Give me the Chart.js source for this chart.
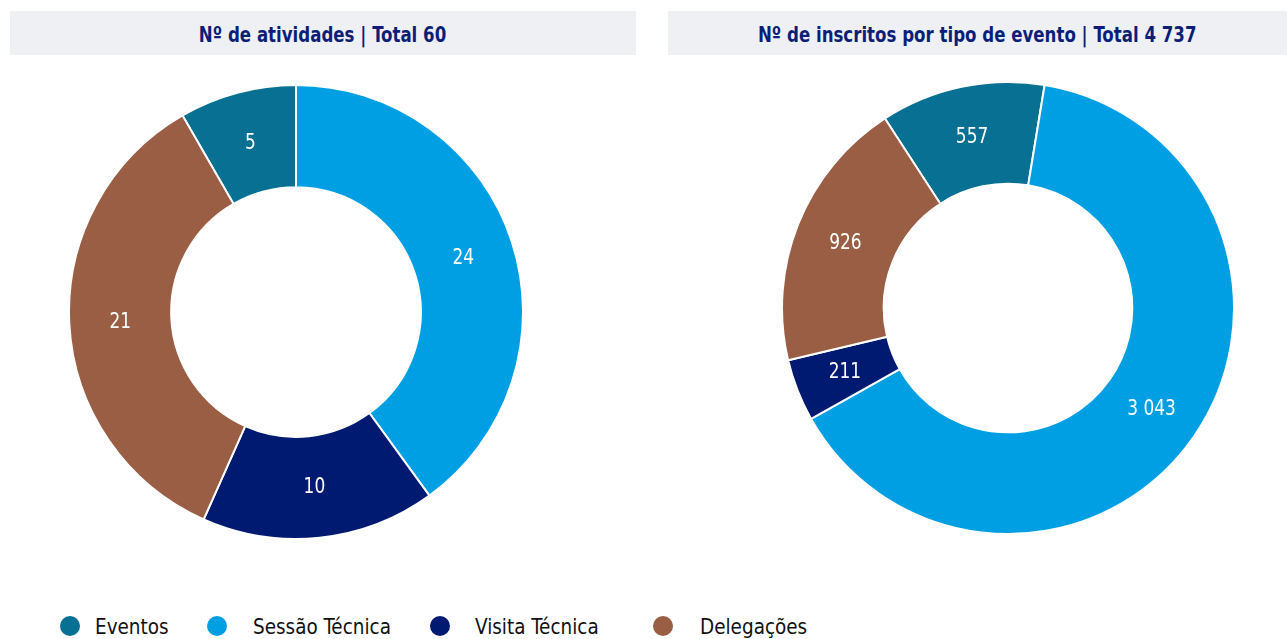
<!DOCTYPE html>
<html>
<head>
<meta charset="utf-8">
<script src="https://cdn.jsdelivr.net/npm/chart.js@4/dist/chart.umd.min.js"></script>
<style>
  html, body { margin: 0; padding: 0; background: #ffffff; }
  body { width: 1287px; height: 639px; position: relative; overflow: hidden;
         font-family: 'Liberation Sans Narrow', 'DejaVu Sans Condensed', sans-serif; }
  .title { position: absolute; top: 11px; height: 44px; background: #eff0f4;
           color: #0c1f78; font-size: 21px; line-height: 48px; text-align: center; font-weight: bold; }
  .title span { display: inline-block; transform: scaleX(0.88); transform-origin: center; }
  .cv { position: absolute; }
  .leg { position: absolute; top: 615px; height: 24px; font-size: 22px; color: #111; line-height: 24px;
         transform: scaleX(0.93); transform-origin: left center; }
  .dot { position: absolute; top: 616px; width: 20px; height: 20px; border-radius: 50%; }
</style>
</head>
<body>
<div class="title" style="left:10px;width:626px;"><span>Nº de atividades | Total 60</span></div>
<div class="title" style="left:668px;width:619px;"><span>Nº de inscritos por tipo de evento | Total 4 737</span></div>
<div class="cv" style="left:68px;top:84px;width:456px;height:456px;"><canvas id="c1"></canvas></div>
<div class="cv" style="left:781px;top:81px;width:454px;height:454px;"><canvas id="c2"></canvas></div>
<div id="legend"></div>
<script>
const categories = ['Eventos', 'Sessão Técnica', 'Visita Técnica', 'Delegações'];
const atividades = [5, 24, 10, 21];
const inscritos = [557, 3043, 211, 926];
const colors = ['#077093', '#009fe3', '#001a72', '#9a5e45'];

function fmt(v) {
  return String(v).replace(/\B(?=(\d{3})+(?!\d))/g, ' ');
}

const labelPlugin = {
  id: 'sliceLabels',
  afterDatasetsDraw(chart) {
    const ctx = chart.ctx;
    const meta = chart.getDatasetMeta(0);
    const data = chart.data.datasets[0].data;
    ctx.save();
    ctx.fillStyle = '#ffffff';
    ctx.font = "21px 'Liberation Sans Narrow', 'DejaVu Sans Condensed', sans-serif";
    ctx.textAlign = 'center';
    ctx.textBaseline = 'middle';
    meta.data.forEach((arc, i) => {
      const p = arc.tooltipPosition();
      ctx.save();
      ctx.translate(p.x, p.y);
      ctx.scale(0.9, 1);
      ctx.fillText(fmt(data[i]), 0, 1);
      ctx.restore();
    });
    ctx.restore();
  }
};

function makeChart(id, values, rotation) {
  return new Chart(document.getElementById(id), {
    type: 'doughnut',
    data: {
      labels: categories,
      datasets: [{
        data: values,
        backgroundColor: colors,
        borderColor: '#ffffff',
        borderWidth: 2,
        hoverOffset: 0
      }]
    },
    options: {
      responsive: true,
      maintainAspectRatio: false,
      animation: false,
      cutout: '55%',
      rotation: rotation,
      layout: { padding: 0 },
      plugins: { legend: { display: false }, tooltip: { enabled: false } }
    },
    plugins: [labelPlugin]
  });
}

makeChart('c1', atividades, -30);
makeChart('c2', inscritos, -33);

// legend
const dotX = [60, 207, 430, 653];
const textX = [95, 253, 475, 700];
const legend = document.getElementById('legend');
categories.forEach((c, i) => {
  const d = document.createElement('div');
  d.className = 'dot';
  d.style.left = dotX[i] + 'px';
  d.style.background = colors[i];
  legend.appendChild(d);
  const t = document.createElement('div');
  t.className = 'leg';
  t.style.left = textX[i] + 'px';
  t.textContent = c;
  legend.appendChild(t);
});
</script>
</body>
</html>
